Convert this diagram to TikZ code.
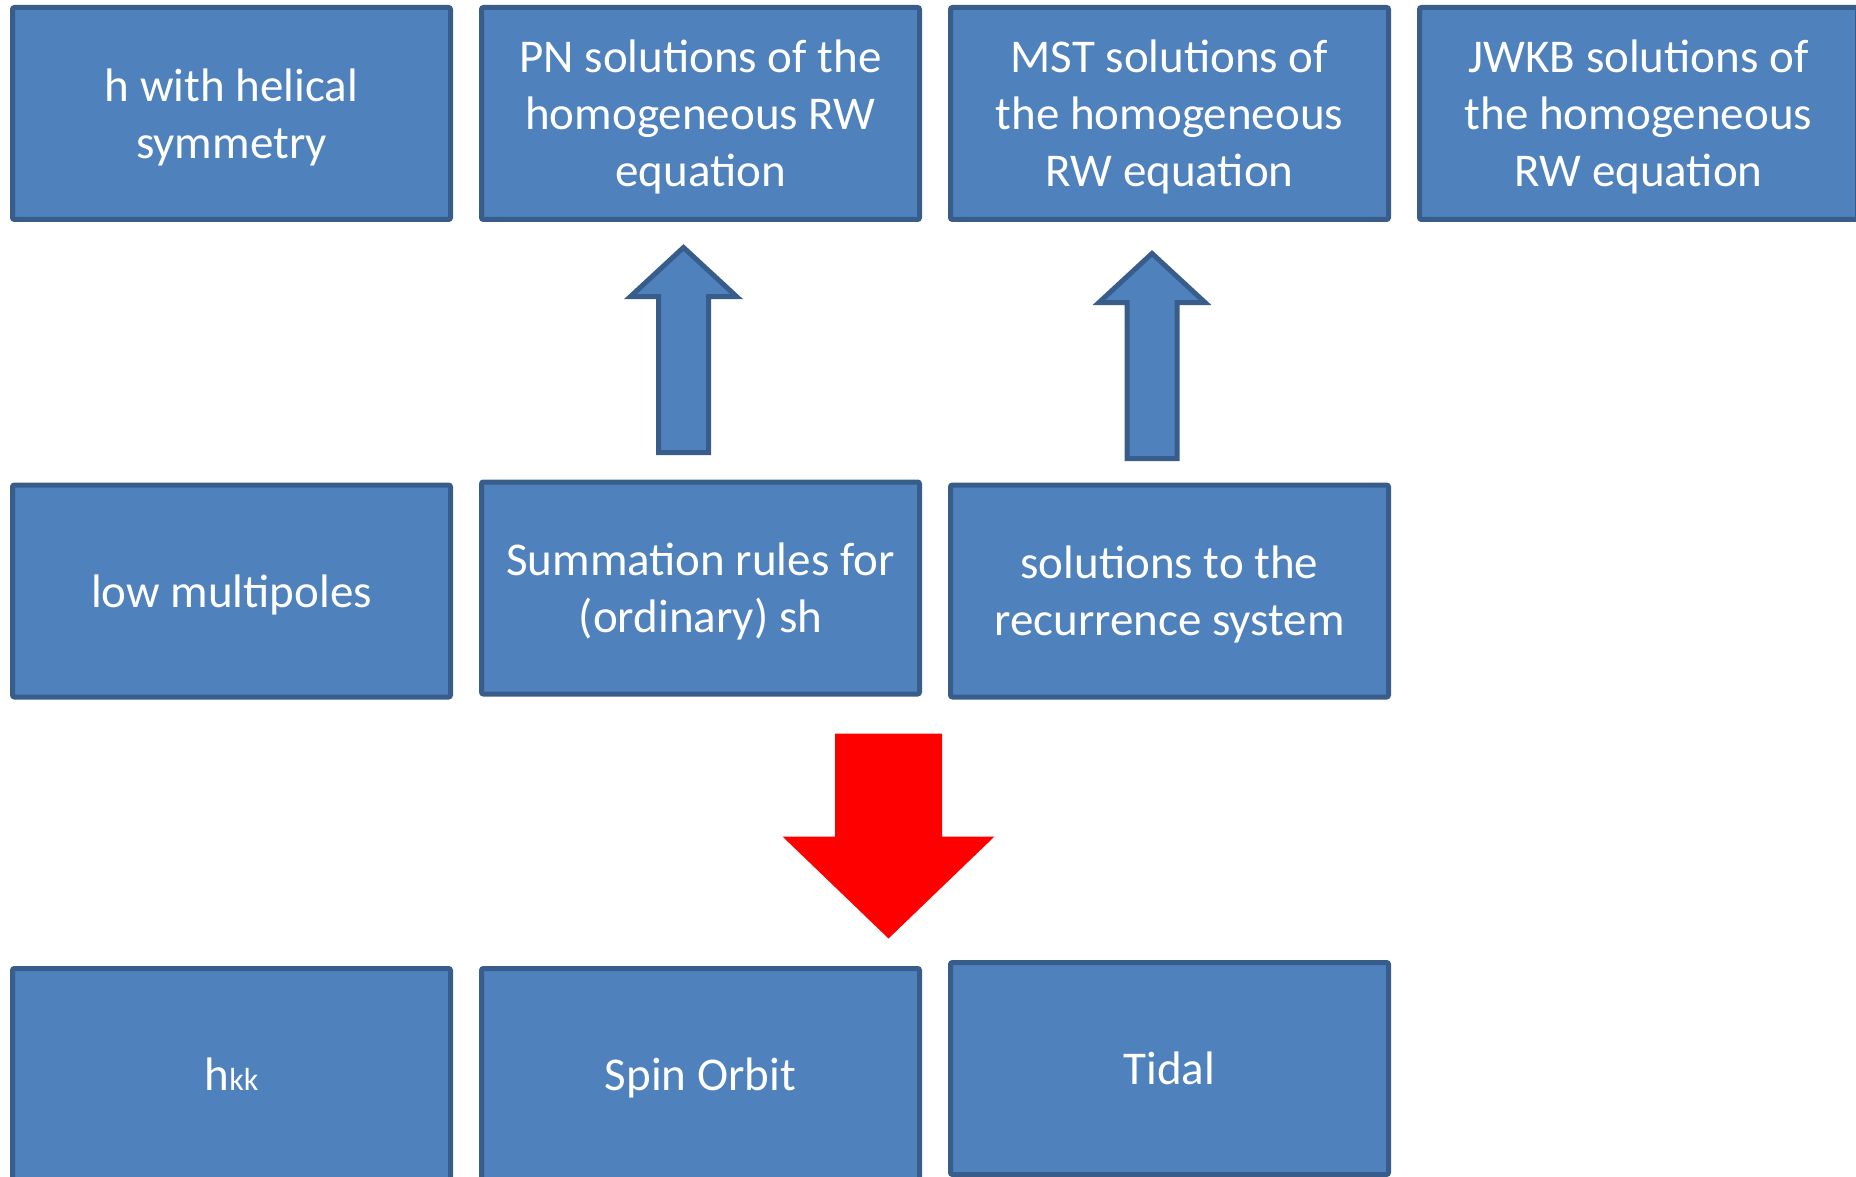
\documentclass[tikz,border=0pt]{standalone}
\usepackage{fontspec}
\setmainfont{Carlito}
\usetikzlibrary{positioning}
\definecolor{boxfill}{HTML}{4F81BD}
\definecolor{boxline}{HTML}{385D8A}

\begin{document}
\begin{tikzpicture}[x=1pt, y=-1pt, node distance=469pt]
\tikzstyle{block}=[rectangle, rounded corners=2pt, fill=boxfill, draw=boxline, line width=5pt, minimum width=438pt, minimum height=212pt, inner sep=0pt, align=center, text=white, text depth=0pt, font=\fontsize{47}{57}\selectfont]
\tikzstyle{blockarrow}=[fill=boxfill, draw=boxline, line width=5pt, line join=miter]
\tikzset{uparrow/.pic={\draw[blockarrow] (-25,0) -- (-25,-156) -- (-53,-156) -- (0,-205) -- (53,-156) -- (25,-156) -- (25,0) -- cycle;},
  downarrow/.pic={\fill[red] (-53.5,0) -- (-53.5,103) -- (-106,103) -- (0,205) -- (106,103) -- (53.5,103) -- (53.5,0) -- cycle;}}
\useasboundingbox (0,0) rectangle (1856,1177);
\clip (0,0) rectangle (1856,1177);
% top row
\node[block]    (helical) at (231.5,113.5)  {h with helical\\symmetry};
\node[block]    (pn)[right of=helical]      {PN solutions of the\\homogeneous RW\\equation};
\node[block]    (mst)[right of=pn]          {MST solutions of\\the homogeneous\\RW equation};
\node[block]    (jwkb)[right of=mst]        {JWKB solutions of\\the homogeneous\\RW equation};
% middle row
\node[block]    (low) at (231.5,591)        {low multipoles};
\node[block]    (sum)[right of=low, yshift=3pt]  {Summation rules for\\(ordinary) sh};
\node[block]    (rec)[right of=low, xshift=469pt] {solutions to the\\recurrence system};
% bottom row
\node[block]    (hkk) at (231.5,1074.5)     {h{\fontsize{32}{40}\selectfont kk}};
\node[block]    (spin)[right of=hkk]        {Spin Orbit};
\node[block]    (tidal)[right of=spin, yshift=6pt] {Tidal};
% arrows
\path (sum.north) ++(-17,-27) pic {uparrow};
\path (rec.north) ++(-17.5,-24) pic {uparrow};
\path (sum.south) ++(188,37) pic {downarrow};
\end{tikzpicture}
\end{document}
